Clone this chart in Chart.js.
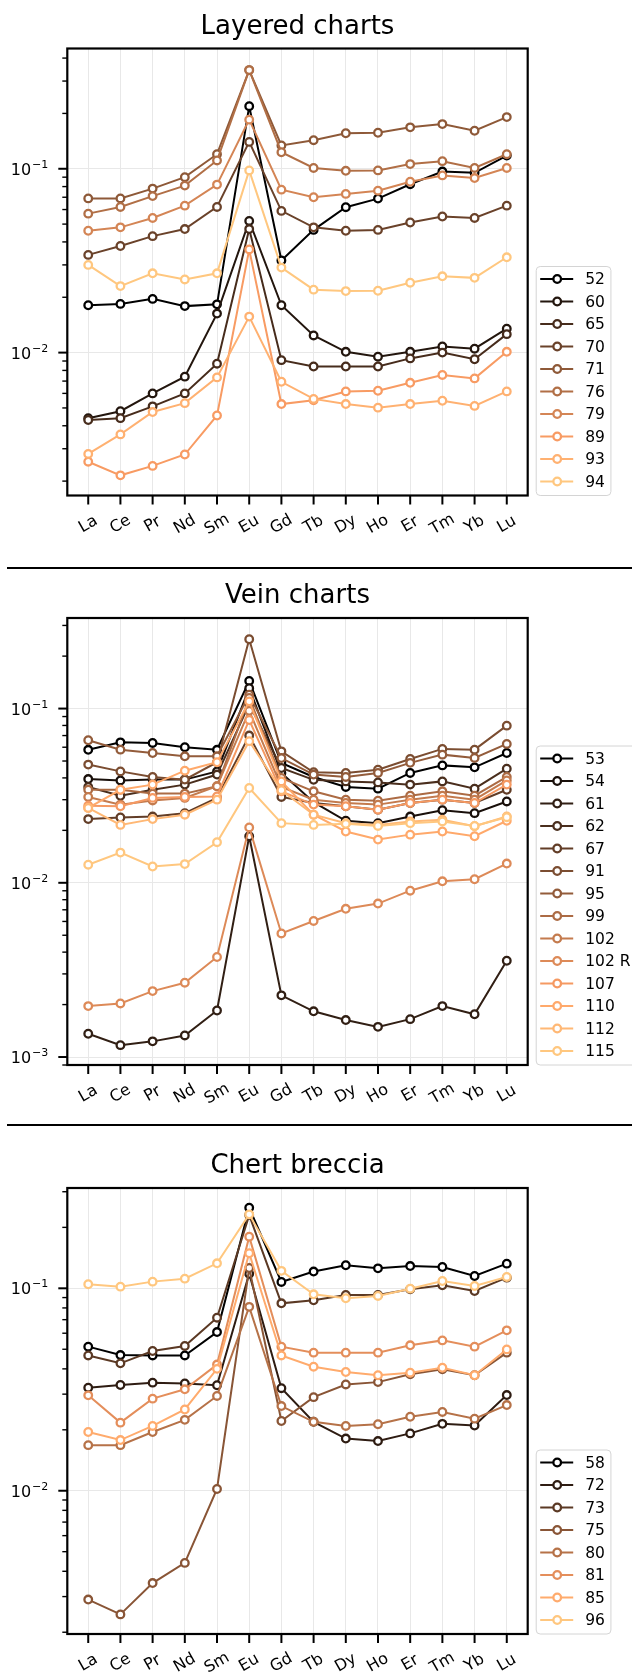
<!DOCTYPE html>
<html>
<head>
<meta charset="utf-8">
<script src="https://cdn.jsdelivr.net/npm/chart.js@4"></script>
<style>
  body { margin: 0; padding: 0; background: #fff; }
  #page { position: relative; width: 632px; height: 1679px; overflow: hidden; }
  .panel { position: absolute; left: 0; width: 632px; }
  .sep { position: absolute; left: 7px; width: 625px; height: 2px; background: #000; }
</style>
</head>
<body>
<div id="page">
  <div class="panel" style="top:0;height:566px"><canvas id="layered"></canvas></div>
  <div class="sep" style="top:567px"></div>
  <div class="panel" style="top:569px;height:554px"><canvas id="vein"></canvas></div>
  <div class="sep" style="top:1124px"></div>
  <div class="panel" style="top:1126px;height:553px"><canvas id="breccia"></canvas></div>
</div>
<script>
const elements = ['La', 'Ce', 'Pr', 'Nd', 'Sm', 'Eu', 'Gd', 'Tb', 'Dy', 'Ho', 'Er', 'Tm', 'Yb', 'Lu'];

// Layered charts
const layeredSamples = ['52', '60', '65', '70', '71', '76', '79', '89', '93', '94'];
const layeredValues = [
  [0.0181, 0.0184, 0.0196, 0.0179, 0.0183, 0.219, 0.0317, 0.0465, 0.0618, 0.0688, 0.0824, 0.0966, 0.095, 0.118],
  [0.0044, 0.0048, 0.0060, 0.0074, 0.0163, 0.052, 0.0181, 0.0124, 0.0101, 0.0095, 0.0101, 0.0108, 0.0105, 0.0135],
  [0.0043, 0.0044, 0.0051, 0.0060, 0.0087, 0.047, 0.0091, 0.0084, 0.0084, 0.0084, 0.0093, 0.0100, 0.0092, 0.0126],
  [0.034, 0.038, 0.043, 0.047, 0.062, 0.140, 0.059, 0.048, 0.046, 0.0465, 0.051, 0.055, 0.054, 0.063],
  [0.069, 0.069, 0.078, 0.090, 0.120, 0.344, 0.134, 0.143, 0.156, 0.157, 0.168, 0.175, 0.161, 0.191],
  [0.057, 0.062, 0.071, 0.081, 0.111, 0.344, 0.123, 0.101, 0.0975, 0.098, 0.106, 0.110, 0.101, 0.120],
  [0.046, 0.048, 0.054, 0.063, 0.082, 0.185, 0.077, 0.070, 0.073, 0.076, 0.085, 0.092, 0.089, 0.101],
  [0.00255, 0.00215, 0.00242, 0.00279, 0.00455, 0.0364, 0.00525, 0.0055, 0.00615, 0.0062, 0.00685, 0.00756, 0.00724, 0.0101],
  [0.00281, 0.00359, 0.00475, 0.00531, 0.00733, 0.0157, 0.00694, 0.0056, 0.00525, 0.00502, 0.00525, 0.00547, 0.00513, 0.00615],
  [0.030, 0.023, 0.027, 0.025, 0.027, 0.098, 0.029, 0.022, 0.0216, 0.0217, 0.024, 0.026, 0.0255, 0.033]
];

// Vein charts
const veinSamples = ['53', '54', '61', '62', '67', '91', '95', '99', '102', '102 R', '107', '110', '112', '115'];
const veinValues = [
  [0.058, 0.064, 0.0635, 0.060, 0.058, 0.144, 0.0487, 0.0405, 0.0355, 0.0347, 0.0427, 0.0472, 0.046, 0.0556],
  [0.0394, 0.0387, 0.0391, 0.0391, 0.0436, 0.131, 0.0427, 0.029, 0.0227, 0.022, 0.024, 0.0261, 0.0251, 0.0293],
  [0.00136, 0.00117, 0.00123, 0.00133, 0.00185, 0.0185, 0.00226, 0.00183, 0.00163, 0.00149, 0.00165, 0.00196, 0.00176, 0.00357],
  [0.0355, 0.0316, 0.0342, 0.0366, 0.0418, 0.106, 0.0456, 0.039, 0.0382, 0.0377, 0.0366, 0.0382, 0.0347, 0.0452],
  [0.0232, 0.0237, 0.024, 0.0251, 0.0307, 0.070, 0.0311, 0.0287, 0.0275, 0.0263, 0.0287, 0.030, 0.0287, 0.0342],
  [0.0477, 0.0436, 0.0405, 0.0391, 0.0492, 0.25, 0.0568, 0.0431, 0.0427, 0.0446, 0.0514, 0.0587, 0.0581, 0.0798],
  [0.0658, 0.0581, 0.0556, 0.0532, 0.0532, 0.12, 0.052, 0.0418, 0.0405, 0.0427, 0.0488, 0.0544, 0.0521, 0.0627],
  [0.0342, 0.0342, 0.0325, 0.0325, 0.0358, 0.115, 0.040, 0.0335, 0.030, 0.0296, 0.0316, 0.0335, 0.0316, 0.0405],
  [0.0311, 0.0281, 0.0297, 0.0307, 0.0358, 0.097, 0.0355, 0.030, 0.0287, 0.0281, 0.030, 0.0316, 0.030, 0.0387],
  [0.00196, 0.00203, 0.00239, 0.00267, 0.00375, 0.0208, 0.00512, 0.00604, 0.00709, 0.0076, 0.00901, 0.0102, 0.01048, 0.0129],
  [0.0277, 0.0275, 0.0307, 0.0311, 0.0313, 0.086, 0.0335, 0.0281, 0.0275, 0.0263, 0.0287, 0.030, 0.0287, 0.0366],
  [0.0269, 0.0342, 0.0366, 0.044, 0.0492, 0.11, 0.0382, 0.0246, 0.0197, 0.0177, 0.0189, 0.0197, 0.0185, 0.0227],
  [0.0269, 0.0215, 0.0232, 0.0246, 0.030, 0.065, 0.034, 0.0246, 0.022, 0.0215, 0.0225, 0.023, 0.0211, 0.024],
  [0.0127, 0.0149, 0.0124, 0.0128, 0.0171, 0.035, 0.022, 0.0215, 0.0218, 0.0212, 0.022, 0.0225, 0.0212, 0.0238]
];

// Chert breccia
const brecciaSamples = ['58', '72', '73', '75', '80', '81', '85', '96'];
const brecciaValues = [
  [0.0515, 0.0468, 0.0466, 0.0466, 0.0608, 0.25, 0.1075, 0.121, 0.130, 0.1255, 0.1288, 0.1274, 0.115, 0.1324],
  [0.0323, 0.0333, 0.0342, 0.0339, 0.0332, 0.118, 0.0321, 0.0219, 0.0181, 0.0176, 0.0192, 0.0214, 0.021, 0.0297],
  [0.0466, 0.0426, 0.049, 0.0519, 0.0716, 0.23, 0.0843, 0.0872, 0.0927, 0.0927, 0.0989, 0.1035, 0.097, 0.1129],
  [0.0029, 0.00245, 0.0035, 0.0044, 0.0102, 0.126, 0.0221, 0.029, 0.0335, 0.0344, 0.0376, 0.0398, 0.0372, 0.0481],
  [0.0168, 0.0168, 0.0195, 0.0224, 0.0294, 0.081, 0.0262, 0.0219, 0.0209, 0.0213, 0.0232, 0.0245, 0.0227, 0.0265],
  [0.0296, 0.0217, 0.0285, 0.0317, 0.042, 0.18, 0.0515, 0.0481, 0.0481, 0.0481, 0.0523, 0.0553, 0.0515, 0.062],
  [0.0195, 0.0178, 0.0209, 0.0252, 0.040, 0.149, 0.0466, 0.041, 0.0386, 0.0372, 0.0383, 0.0405, 0.0372, 0.0499],
  [0.1047, 0.1019, 0.1079, 0.1116, 0.1329, 0.232, 0.122, 0.0934, 0.0893, 0.0917, 0.0996, 0.1087, 0.1027, 0.1138]
];

const FONT = "'DejaVu Sans', 'Liberation Sans', sans-serif";
const GRID = '#e8e8e8';

// matplotlib "copper" colormap
function copper(t) {
  const r = Math.round(255 * Math.min(1, 1.25 * t));
  const g = Math.round(255 * 0.7812 * t);
  const b = Math.round(255 * 0.4975 * t);
  return `rgb(${r},${g},${b})`;
}

// frame, ticks, tick labels, title and legend drawn around the chart area
const decorations = {
  id: 'decorations',
  afterDraw(chart) {
    const ctx = chart.ctx;
    const a = chart.chartArea;
    const xs = chart.scales.x, ys = chart.scales.y;
    const o = chart.options.plugins.decorations;
    ctx.save();

    // ticks + y labels
    ctx.strokeStyle = '#000';
    ctx.fillStyle = '#000';
    ys.ticks.forEach(t => {
      const y = ys.getPixelForValue(t.value);
      const len = t.major ? 9 : 5;
      ctx.lineWidth = t.major ? 2 : 1.4;
      ctx.beginPath(); ctx.moveTo(a.left - len, y); ctx.lineTo(a.left, y); ctx.stroke();
      if (t.major) {
        const e = Math.round(Math.log10(t.value));
        const exp = '\u2212' + Math.abs(e);
        ctx.font = '11px ' + FONT;
        const we = ctx.measureText(exp).width;
        ctx.font = '16px ' + FONT;
        const wb = ctx.measureText('10').width;
        const xe = a.left - 19;
        ctx.textAlign = 'left';
        ctx.textBaseline = 'alphabetic';
        ctx.fillText('10', xe - we - wb - 1, y + 6);
        ctx.font = '11px ' + FONT;
        ctx.fillText(exp, xe - we, y - 1);
      }
    });
    ctx.lineWidth = 2;
    xs.ticks.forEach(t => {
      const x = xs.getPixelForValue(t.value);
      ctx.beginPath(); ctx.moveTo(x, a.bottom); ctx.lineTo(x, a.bottom + 9); ctx.stroke();
      ctx.save();
      ctx.translate(x, a.bottom + 29);
      ctx.rotate(-Math.PI / 6);
      ctx.font = '16px ' + FONT;
      ctx.textAlign = 'center';
      ctx.textBaseline = 'middle';
      ctx.fillText(elements[t.value], 0, 0);
      ctx.restore();
    });

    // frame
    ctx.lineWidth = 2.2;
    ctx.strokeRect(a.left, a.top, a.right - a.left, a.bottom - a.top);

    // title
    ctx.font = '26px ' + FONT;
    ctx.textAlign = 'center';
    ctx.textBaseline = 'alphabetic';
    ctx.fillText(o.title, (a.left + a.right) / 2, a.top - 15);

    // legend, lower left corner at the right of the axes
    const sets = chart.data.datasets;
    const n = sets.length, step = 22.5;
    ctx.font = '15.5px ' + FONT;
    const tw = Math.max(...sets.map(d => ctx.measureText(d.label).width));
    const lx = a.right + 8.5;
    const firstY = a.bottom - 14 - (n - 1) * step;
    const top = firstY - 12.5, h = a.bottom - top;
    const w = 49 + tw + 6;
    ctx.beginPath();
    ctx.roundRect(lx, top, w, h, 4);
    ctx.fillStyle = 'rgba(255,255,255,0.85)';
    ctx.fill();
    ctx.strokeStyle = '#d4d4d4';
    ctx.lineWidth = 1;
    ctx.stroke();
    sets.forEach((d, i) => {
      const cy = firstY + i * step;
      ctx.strokeStyle = d.borderColor;
      ctx.lineWidth = 2;
      ctx.beginPath(); ctx.moveTo(lx + 4, cy); ctx.lineTo(lx + 37, cy); ctx.stroke();
      ctx.beginPath(); ctx.arc(lx + 21, cy, 3.8, 0, Math.PI * 2);
      ctx.fillStyle = '#fff'; ctx.fill();
      ctx.lineWidth = 2.3; ctx.stroke();
      ctx.fillStyle = '#000';
      ctx.textAlign = 'left';
      ctx.textBaseline = 'middle';
      ctx.fillText(d.label, lx + 49, cy + 1);
    });
    ctx.restore();
  }
};

function logTicks(scale) {
  const ticks = [];
  const lo = Math.floor(Math.log10(scale.min)), hi = Math.ceil(Math.log10(scale.max));
  for (let e = lo; e <= hi; e++) {
    for (let m = 1; m <= 9; m++) {
      const v = m * Math.pow(10, e);
      if (v >= scale.min && v <= scale.max) ticks.push({ value: v, major: m === 1 });
    }
  }
  scale.ticks = ticks;
}

function makeChart(id, title, samples, values, yMin, yMax, areaTop, areaBottom, canvasH) {
  const n = samples.length;
  const datasets = samples.map((s, i) => {
    const c = copper(n > 1 ? i / (n - 1) : 0);
    return {
      label: s,
      data: values[i].map((v, k) => ({ x: k, y: v })),
      borderColor: c,
      backgroundColor: '#fff',
      borderWidth: 2,
      pointRadius: 3.8,
      pointBorderWidth: 2.3,
      pointBorderColor: c,
      pointBackgroundColor: '#fff',
      tension: 0,
      order: n - i
    };
  });
  return new Chart(document.getElementById(id), {
    type: 'line',
    data: { datasets },
    options: {
      responsive: true,
      maintainAspectRatio: false,
      animation: false,
      events: [],
      layout: { padding: { left: 67.3, right: 632 - 527.7, top: areaTop, bottom: canvasH - areaBottom } },
      scales: {
        x: {
          type: 'linear', min: -0.65, max: elements.length - 1 + 0.65,
          afterBuildTicks: s => { s.ticks = elements.map((_, i) => ({ value: i })); },
          afterFit: s => { s.height = 0; },
          ticks: { display: false },
          grid: { color: GRID, lineWidth: 1, drawTicks: false },
          border: { display: false }
        },
        y: {
          type: 'logarithmic', min: yMin, max: yMax,
          afterBuildTicks: logTicks,
          afterFit: s => { s.width = 0; },
          ticks: { display: false },
          grid: {
            color: c => (c.tick && c.tick.major) ? GRID : 'rgba(0,0,0,0)',
            lineWidth: 1, drawTicks: false
          },
          border: { display: false }
        }
      },
      plugins: {
        legend: { display: false },
        tooltip: { enabled: false },
        decorations: { title }
      }
    },
    plugins: [decorations]
  });
}

makeChart('layered', 'Layered charts', layeredSamples, layeredValues, 0.00167, 0.451, 48.5, 495.5, 566);
makeChart('vein', 'Vein charts', veinSamples, veinValues, 0.0009, 0.331, 49, 496, 554);
makeChart('breccia', 'Chert breccia', brecciaSamples, brecciaValues, 0.00196, 0.313, 62, 508, 553);
</script>
</body>
</html>
